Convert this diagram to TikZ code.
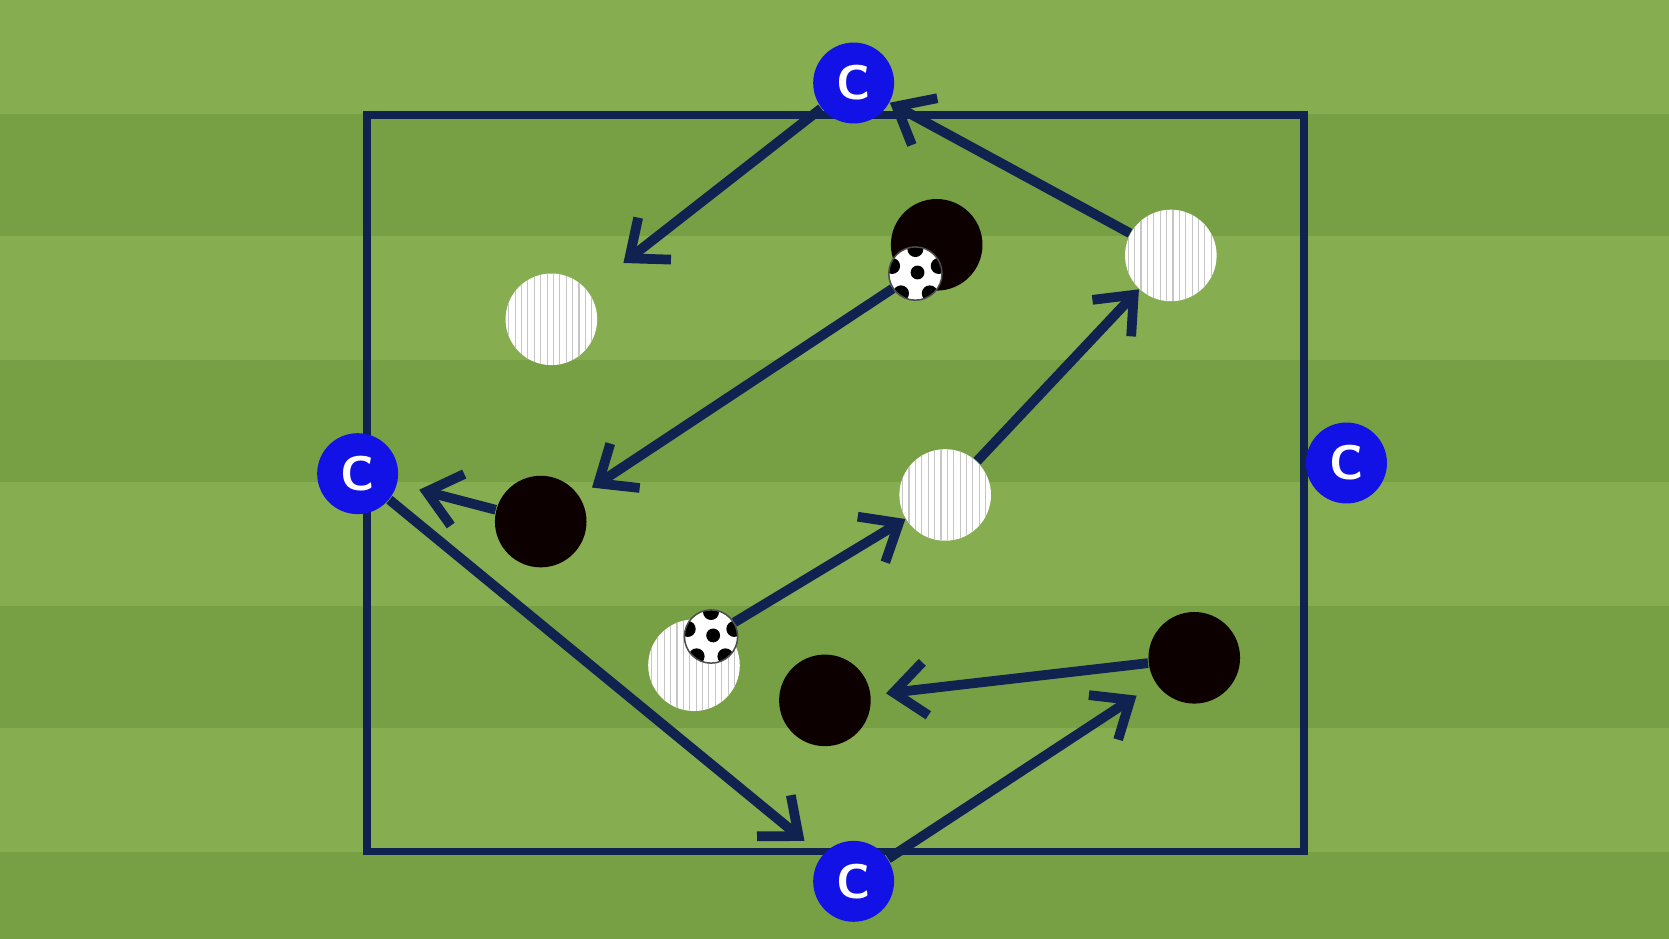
\documentclass[tikz,border=0pt]{standalone}
\usetikzlibrary{arrows.meta}
\definecolor{gl}{HTML}{86AD50}
\definecolor{gd}{HTML}{76A043}
\definecolor{navy}{HTML}{0F2250}
\definecolor{cblue}{HTML}{1212E6}
\begin{document}
\begin{tikzpicture}[x=0.01cm,y=-0.01cm,
  coach/.style={circle,fill=cblue,minimum size=0.76cm,inner sep=0pt,text=white,font=\sffamily\bfseries\fontsize{13}{13}\selectfont},
  wp/.style={circle,fill=white,minimum size=0.86cm,inner sep=0pt,
    path picture={\foreach \i in {-0.4,-0.34,...,0.41}{\draw[gray!45,line width=0.3pt] ([xshift=\i cm]path picture bounding box.north) -- ([xshift=\i cm]path picture bounding box.south);}}},
  bp/.style={circle,fill=black!95!red,minimum size=0.86cm,inner sep=0pt},
  ball/.style={circle,fill=white,draw=black!70,line width=0.4pt,minimum size=0.5cm,inner sep=0pt,
    path picture={\fill[black] ([xshift=0.02cm,yshift=0.01cm]path picture bounding box.center) circle (0.065cm);
      \foreach \a in {90,162,234,306,18}{\fill[black] ([xshift={0.23cm*cos(\a)},yshift={0.23cm*sin(\a)}]path picture bounding box.center) circle (0.075cm);}}},
  arr/.style={navy,line width=2.6pt,-{Straight Barb[length=0.3cm,width=0.5cm,line width=2.6pt]}}]
\useasboundingbox (0,0) rectangle (1568,882);
\fill[gd] (0,0) rectangle (1568,882);
\fill[gl] (0,0) rectangle (1568,107);
\fill[gl] (0,222) rectangle (1568,338);
\fill[gl] (0,453) rectangle (1568,569);
\fill[gl] (0,684) rectangle (1568,800);
\draw[navy,line width=2pt] (345,108) rectangle (1225,800);
\node[coach] (ct) at (802,78) {C};
\node[coach] (cl) at (336,445) {C};
\node[coach] (cr) at (1265,435) {C};
\node[coach] (cb) at (802,828) {C};
\node[wp] (w1) at (518,300) {};
\node[wp] (w2) at (1100,240) {};
\node[wp] (w3) at (888,465) {};
\node[wp] (w4) at (652,625) {};
\node[bp] (b1) at (880,230) {};
\node[bp] (b2) at (508,490) {};
\node[bp] (b3) at (775,658) {};
\node[bp] (b4) at (1122,618) {};
\node[ball] (ba1) at (860,257) {};
\node[ball] (ba2) at (668,598) {};
\draw[arr,shorten >=12pt] (ct) -- (w1);
\draw[arr] (w2) -- (ct);
\draw[arr,shorten >=4pt] (ba1) -- (b2);
\draw[arr,shorten >=6pt] (b2) -- (cl);
\draw[arr,shorten >=6pt] (cl) -- (cb);
\draw[arr] (ba2) -- (w3);
\draw[arr] (w3) -- (w2);
\draw[arr,shorten >=4pt] (b4) -- (b3);
\draw[arr,shorten >=6pt] (cb) -- (b4);
\end{tikzpicture}
\end{document}
